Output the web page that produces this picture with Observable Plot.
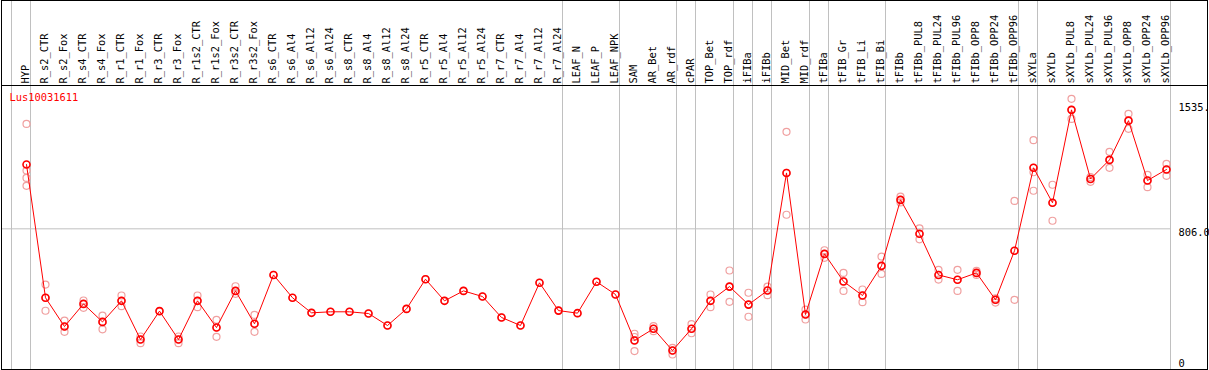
<!DOCTYPE html>
<html><head><meta charset="utf-8">
<script src="https://cdn.jsdelivr.net/npm/d3@7"></script>
<script src="https://cdn.jsdelivr.net/npm/@observablehq/plot@0.6"></script>
<style>body{margin:0;background:#fff} svg{display:block}</style>
</head><body><div id="chart"></div>
<script>
const seriesName = "Lus10031611";
const categories = ["HYP","R_s2_CTR","R_s2_Fox","R_s4_CTR","R_s4_Fox","R_r1_CTR","R_r1_Fox","R_r3_CTR","R_r3_Fox","R_r1s2_CTR","R_r1s2_Fox","R_r3s2_CTR","R_r3s2_Fox","R_s6_CTR","R_s6_Al4","R_s6_Al12","R_s6_Al24","R_s8_CTR","R_s8_Al4","R_s8_Al12","R_s8_Al24","R_r5_CTR","R_r5_Al4","R_r5_Al12","R_r5_Al24","R_r7_CTR","R_r7_Al4","R_r7_Al12","R_r7_Al24","LEAF_N","LEAF_P","LEAF_NPK","SAM","AR_Bet","AR_rdf","cPAR","TOP_Bet","TOP_rdf","iFIBa","iFIBb","MID_Bet","MID_rdf","tFIBa","tFIB_Gr","tFIB_Li","tFIB_Bi","tFIBb","tFIBb_PUL8","tFIBb_PUL24","tFIBb_PUL96","tFIBb_OPP8","tFIBb_OPP24","tFIBb_OPP96","sXYLa","sXYLb","sXYLb_PUL8","sXYLb_PUL24","sXYLb_PUL96","sXYLb_OPP8","sXYLb_OPP24","sXYLb_OPP96"];
const means = [1181,404,236,368,263,386,160,326,160,386,230,444,252,537,404,316,322,322,312,242,339,512,386,444,411,289,242,491,329,314,497,423,155,223,96,223,386,469,364,446,1132,306,660,499,417,590,975,777,537,509,549,392,678,1162,958,1500,1097,1208,1437,1088,1152];
const replicates = [
  [1418,1146,1103,1057],[481,403,328],[271,236,205],[388,368,345],[300,263,220],
  [417,386,355],[178,160,139],[326],[178,160,139],[417,386,349],
  [275,230,176],[471,444,427],[304,252,205],[537],[404],
  [316],[322],[322],[312],[242],
  [339],[512],[386],[444],[411],
  [289],[242],[491],[329],[314],
  [497],[423],[194,175,155,93],[238,223,209],[112,96,73],
  [250,223,197],[423,386,349],[563,469,380],[433,364,293],[469,446,419],
  [1372,1132,888],[335,306,277],[681,660,637],[549,499,444],[452,417,378],
  [644,590,543],[994,975,960],[809,777,745],[567,537,510],[567,509,444],
  [561,549,537],[400,392,376],[969,678,392],[1323,1162,1136,1028],[1063,958,853],
  [1564,1500,1447],[1107,1097,1080],[1255,1208,1162],[1477,1437,1389],[1121,1088,1049],
  [1185,1152,1115]
];
const groupEnds = ["HYP","R_r7_Al24","LEAF_NPK","AR_rdf","cPAR","TOP_rdf","iFIBa","iFIBb","MID_rdf","tFIBa","tFIB_Bi","tFIBb_OPP96","sXYLa","sXYLb_OPP96"];
const yTicks = [1535, 806, 0];
const yTickLabels = ["1535.", "806.0", "0"];
const gridValue = 806;
const headerValue = 1642;

const meanData = categories.map((c, i) => ({cat: c, value: means[i]}));
const repData = categories.flatMap((c, i) => replicates[i].map(v => ({cat: c, value: v})));
const tickIdx = yTicks.map((_, i) => i);

const plot = Plot.plot({
  width: 1209, height: 370,
  marginLeft: 1, marginRight: 39, marginTop: 0, marginBottom: 1,
  style: {fontFamily: "DejaVu Sans Mono", fontSize: "10.4px", background: "white", color: "black"},
  x: {type: "point", domain: categories, range: [26, 1166], padding: 0, axis: null},
  y: {domain: [0, headerValue], range: [366.5, 85], axis: null},
  marks: [
    Plot.ruleX(groupEnds, {x: d => d, dx: 4, stroke: "#c0c0c0", strokeWidth: 1}),
    Plot.ruleX([categories[0]], {x: d => d, dx: -15, stroke: "#c0c0c0", strokeWidth: 1}),
    Plot.ruleY([gridValue], {stroke: "#c0c0c0", strokeWidth: 1}),
    Plot.text(categories, {x: d => d, text: d => d, frameAnchor: "top", dy: 83, dx: -1, rotate: -90, textAnchor: "start", lineAnchor: "middle", fill: "black", fontWeight: 300}),
    Plot.dot(repData, {x: "cat", y: "value", r: 3.5, stroke: "#f0a0a0", strokeWidth: 1.2, fill: "none"}),
    Plot.line(meanData, {x: "cat", y: "value", stroke: "red", strokeWidth: 1}),
    Plot.dot(meanData, {x: "cat", y: "value", r: 3.5, stroke: "red", strokeWidth: 1.6, fill: "none"}),
    Plot.text(tickIdx.filter(i => yTicks[i] > 0), {y: i => yTicks[i], text: i => yTickLabels[i], frameAnchor: "right", dx: 8, textAnchor: "start", lineAnchor: "top", fill: "black"}),
    Plot.text(tickIdx.filter(i => yTicks[i] === 0), {y: i => yTicks[i], text: i => yTickLabels[i], frameAnchor: "right", dx: 8, textAnchor: "start", lineAnchor: "bottom", fill: "black"}),
    Plot.text([seriesName], {frameAnchor: "top-left", dx: 8, dy: 97, textAnchor: "start", lineAnchor: "middle", fill: "red"})
  ]
});

const svg = d3.select(plot);
svg.append("rect").attr("x", 1.5).attr("y", 0.5).attr("width", 1206).attr("height", 369)
  .attr("fill", "none").attr("stroke", "black");
svg.append("line").attr("x1", 1).attr("x2", 1208).attr("y1", 85.5).attr("y2", 85.5)
  .attr("stroke", "black");
document.getElementById("chart").appendChild(plot);
</script>
</body></html>
